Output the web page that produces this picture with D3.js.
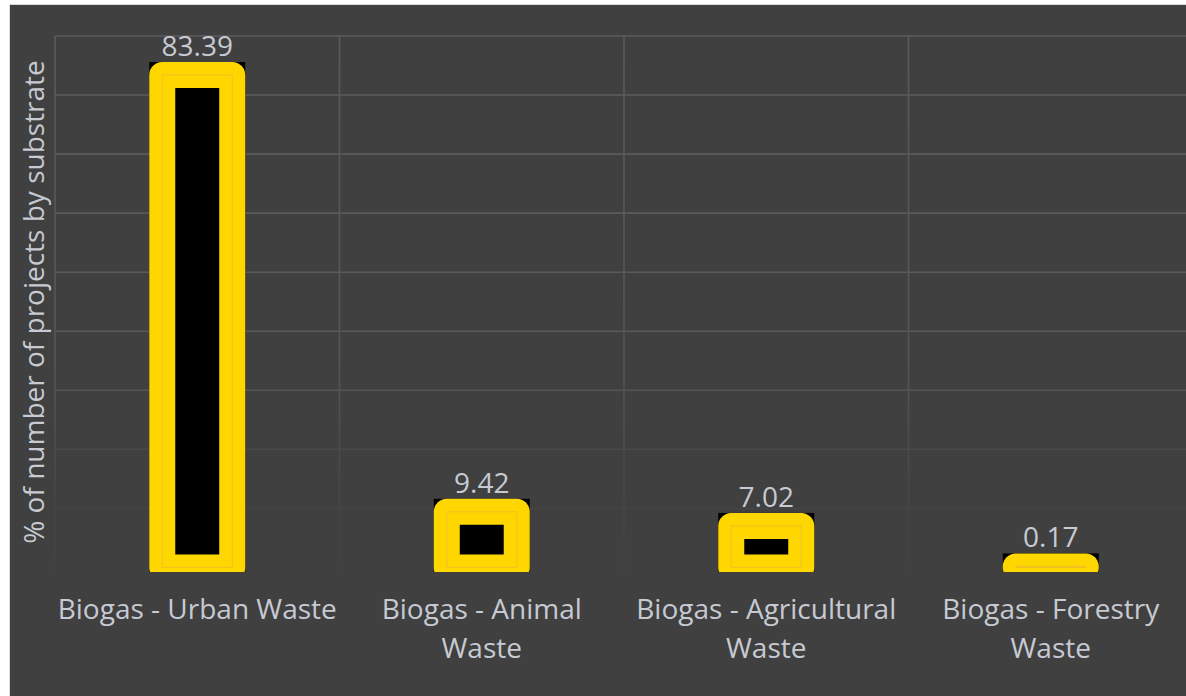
<!DOCTYPE html>
<html>
<head>
<meta charset="utf-8">
<script src="https://cdn.jsdelivr.net/npm/d3@7/dist/d3.min.js"></script>
<style>
  html, body { margin: 0; padding: 0; background: #ffffff; overflow: hidden; }
  svg { display: block; }
  text { font-family: "Open Sans", "Noto Sans", sans-serif; }
</style>
</head>
<body>
<svg id="chart" width="1186" height="696"></svg>
<script>
const categories = [
  ["Biogas - Urban Waste"],
  ["Biogas - Animal", "Waste"],
  ["Biogas - Agricultural", "Waste"],
  ["Biogas - Forestry", "Waste"]
];
const categoryNames = ["Biogas - Urban Waste", "Biogas - Animal Waste", "Biogas - Agricultural Waste", "Biogas - Forestry Waste"];
const values = [83.39, 9.42, 7.02, 0.17];
const valueLabels = ["83.39", "9.42", "7.02", "0.17"];
const yTicks = [10, 20, 30, 40, 50, 60, 70, 80, 90];
const yTitle = "% of number of projects by substrate";

const W = 1186, H = 696;
const svg = d3.select("#chart");

// page background with chart frame
svg.append("rect").attr("x", 0).attr("y", 0).attr("width", W).attr("height", H).attr("fill", "#ffffff");
svg.append("rect").attr("x", 9).attr("y", 4).attr("width", W).attr("height", H).attr("fill", "#d9d9d9");
svg.append("rect").attr("x", 10).attr("y", 5).attr("width", W).attr("height", H).attr("fill", "#404040");

const plot = { left: 55, right: 1193, top: 36, bottom: 572 };

const y = d3.scaleLinear().domain([0, 90]).range([567.4, plot.top]);
const xGrid = d3.scaleBand().domain(categoryNames).range([plot.left, plot.right]).padding(0);
const x = d3.scaleBand().domain(categoryNames).range([plot.left, plot.right])
  .paddingInner(0.754).paddingOuter(0.377);

const defs = svg.append("defs");
const vg = defs.append("linearGradient").attr("id", "vgrad")
  .attr("gradientUnits", "userSpaceOnUse").attr("x1", 0).attr("x2", 0).attr("y1", plot.top).attr("y2", plot.bottom);
vg.append("stop").attr("offset", "0").attr("stop-color", "#5a5a5a");
vg.append("stop").attr("offset", "0.62").attr("stop-color", "#555555");
vg.append("stop").attr("offset", "0.85").attr("stop-color", "#464646");
vg.append("stop").attr("offset", "1").attr("stop-color", "#414141");

defs.append("clipPath").attr("id", "plotclip")
  .append("rect").attr("x", 0).attr("y", 0).attr("width", W).attr("height", plot.bottom);

// horizontal gridlines (fade toward the bottom)
const fade = d3.scaleLinear().domain([plot.top, 380, 450, 510, 567]).range([1, 0.9, 0.35, 0.12, 0.05]).clamp(true);
svg.append("g").selectAll("line").data(yTicks).join("line")
  .attr("x1", plot.left).attr("x2", plot.right)
  .attr("y1", d => y(d)).attr("y2", d => y(d))
  .attr("stroke", "#5c5c5c").attr("stroke-width", 1.6)
  .attr("stroke-opacity", d => fade(y(d)));

// vertical gridlines at category boundaries
const bounds = categoryNames.map(c => xGrid(c)).concat([plot.right]);
svg.append("g").selectAll("line").data(bounds).join("line")
  .attr("x1", d => d).attr("x2", d => d)
  .attr("y1", plot.top).attr("y2", plot.bottom)
  .attr("stroke", "url(#vgrad)").attr("stroke-width", 1.6);

// bars
const SW = 26;
const bars = svg.append("g").attr("clip-path", "url(#plotclip)");
const data = categoryNames.map((c, i) => ({ c, v: values[i], label: valueLabels[i] }));

bars.selectAll("rect.back").data(data).join("rect").attr("class", "back")
  .attr("x", d => x(d.c) - SW / 2)
  .attr("y", d => y(d.v) - SW / 2)
  .attr("width", x.bandwidth() + SW)
  .attr("height", d => y(0) - y(d.v) + SW)
  .attr("fill", "#000000");

bars.selectAll("rect.bar").data(data).join("rect").attr("class", "bar")
  .attr("x", d => x(d.c))
  .attr("y", d => y(d.v))
  .attr("width", x.bandwidth())
  .attr("height", d => Math.max(0.5, y(0) - y(d.v)))
  .attr("fill", "#000000")
  .attr("stroke", "#FFD700")
  .attr("stroke-width", SW)
  .attr("stroke-linejoin", "round");

bars.selectAll("rect.mid").data(data).join("rect").attr("class", "mid")
  .attr("x", d => x(d.c))
  .attr("y", d => y(d.v))
  .attr("width", x.bandwidth())
  .attr("height", d => Math.max(0.5, y(0) - y(d.v)))
  .attr("fill", "none")
  .attr("stroke", "#e8b830")
  .attr("stroke-width", 1)
  .attr("stroke-opacity", 0.7);

// value labels
svg.append("g").selectAll("text").data(data).join("text")
  .attr("x", d => x(d.c) + x.bandwidth() / 2)
  .attr("y", d => y(d.v) - SW / 2 - 6)
  .attr("text-anchor", "middle")
  .attr("fill", "#c6cad2")
  .attr("font-size", 28)
  .text(d => d.label);

// category labels
const catG = svg.append("g").selectAll("text").data(categoryNames).join("text")
  .attr("x", d => xGrid(d) + xGrid.bandwidth() / 2)
  .attr("y", 619)
  .attr("text-anchor", "middle")
  .attr("fill", "#c6cad2")
  .attr("font-size", 28);
catG.each(function(d, i) {
  d3.select(this).selectAll("tspan").data(categories[i]).join("tspan")
    .attr("x", xGrid(d) + xGrid.bandwidth() / 2)
    .attr("dy", (t, j) => j === 0 ? 0 : 39)
    .text(t => t);
});

// y axis title
svg.append("text")
  .attr("transform", "translate(44,302) rotate(-90)")
  .attr("text-anchor", "middle")
  .attr("fill", "#c6cad2")
  .attr("font-size", 28)
  .text(yTitle);
</script>
</body>
</html>
